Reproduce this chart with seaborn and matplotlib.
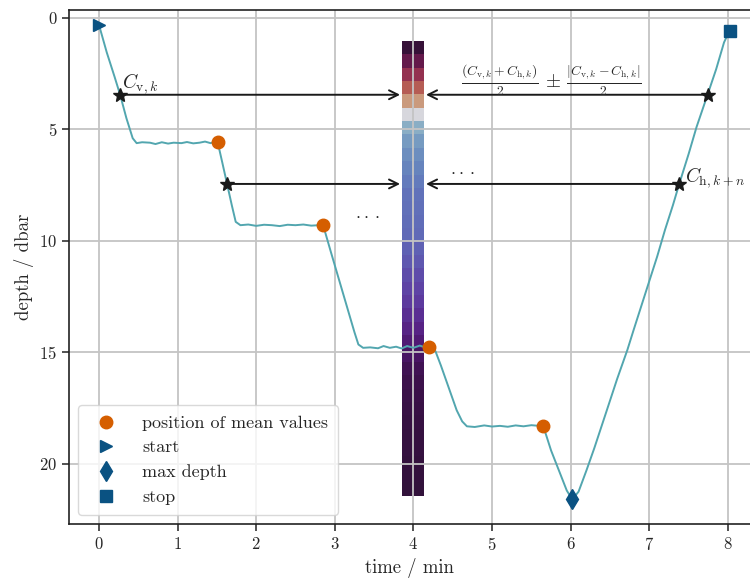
import numpy as np
import matplotlib
matplotlib.use("Agg")
import matplotlib.pyplot as plt
import seaborn as sns

# ---- data
time_min = [0.0, 0.1, 0.2, 0.27, 0.35, 0.43, 0.48, 0.55, 0.65, 0.72, 0.8, 0.88, 0.95,
            1.05, 1.12, 1.2, 1.28, 1.35, 1.42, 1.48, 1.51,
            1.57, 1.63, 1.69, 1.74, 1.8, 1.9, 2.0, 2.1, 2.2, 2.3, 2.4, 2.5, 2.6, 2.7, 2.8, 2.85,
            2.95, 3.05, 3.15, 3.25, 3.3, 3.36, 3.45, 3.55, 3.62, 3.7, 3.78, 3.85, 3.92, 4.0,
            4.08, 4.15, 4.2,
            4.28, 4.35, 4.45, 4.55, 4.62, 4.68, 4.78, 4.9, 5.0, 5.1, 5.2, 5.3, 5.4, 5.5, 5.6, 5.65,
            5.75, 5.85, 5.95, 6.02, 6.1, 6.2, 6.3, 6.45, 6.59, 6.65, 6.72, 6.8, 6.9, 7.0,
            7.1, 7.2, 7.3, 7.38, 7.5, 7.6, 7.74, 7.85, 7.95, 8.02]
depth_dbar = [0.3, 1.55, 2.65, 3.45, 4.5, 5.4, 5.62, 5.58, 5.6, 5.66, 5.58, 5.64, 5.6,
              5.62, 5.57, 5.63, 5.6, 5.55, 5.62, 5.56, 5.57,
              6.5, 7.45, 8.4, 9.15, 9.3, 9.27, 9.33, 9.28, 9.3, 9.34, 9.28, 9.3, 9.27, 9.32, 9.3, 9.28,
              10.5, 11.7, 12.9, 14.1, 14.65, 14.8, 14.78, 14.82, 14.72, 14.8, 14.75, 14.83, 14.72, 14.8,
              14.7, 14.78, 14.75,
              14.95, 15.6, 16.6, 17.6, 18.1, 18.32, 18.35, 18.28, 18.33, 18.3, 18.34, 18.28, 18.32, 18.27, 18.3, 18.3,
              19.4, 20.3, 21.2, 21.6, 21.25, 20.3, 19.3, 17.7, 16.2, 15.6, 14.9, 14.0, 12.9, 11.8,
              10.7, 9.5, 8.4, 7.45, 6.1, 4.9, 3.45, 2.3, 1.1, 0.58]

mean_time = [1.51, 2.85, 4.2, 5.65]
mean_depth = [5.57, 9.28, 14.75, 18.3]
start_pt = (0.0, 0.3)
maxdepth_pt = (6.02, 21.6)
stop_pt = (8.02, 0.58)

star_time = [0.27, 1.63, 7.38, 7.74]
star_depth = [3.45, 7.45, 7.45, 3.45]

# cell values of the column (twilight_shifted_r scale), from top to bottom
cell_values = [0.02, 0.10, 0.18, 0.26, 0.36, 0.53, 0.64, 0.68, 0.705, 0.725, 0.74, 0.755,
               0.76, 0.765, 0.77, 0.785, 0.80, 0.82, 0.835, 0.85, 0.87, 0.89, 0.91, 0.93,
               0.95, 0.96, 0.965, 0.97, 0.975, 0.98, 0.98, 0.985, 0.985, 0.99]
col_top, cell_h = 1.03, 0.6

# ---- style
sns.set_theme(style="whitegrid")
plt.rcParams['font.family'] = 'serif'
plt.rcParams['font.serif'] = ['cmr10', 'DejaVu Serif']
plt.rcParams['mathtext.fontset'] = 'cm'
plt.rcParams['axes.formatter.use_mathtext'] = True

line_c = '#52a6af'
orange = '#d55e00'
blue = '#0a5282'

fig = plt.figure(figsize=(7.5, 5.8), dpi=100)
ax = fig.add_axes([0.092, 0.0966, 0.908, 0.8865])

# column of cells
y_edges = col_top + cell_h * np.arange(len(cell_values) + 1)
x_edges = np.array([3.855, 4.135])
ax.pcolormesh(x_edges, y_edges, np.array(cell_values)[:, None],
              cmap='twilight_shifted_r', vmin=0, vmax=1, zorder=0.4)

sns.lineplot(x=time_min, y=depth_dbar, sort=False, color=line_c, lw=1.4, ax=ax, zorder=2)

# arrows
arrow_kw = dict(arrowstyle='->', lw=1.4, color='k', shrinkA=0, shrinkB=0, mutation_scale=16)
ax.annotate('', xy=(3.83, star_depth[0]), xytext=(star_time[0], star_depth[0]), arrowprops=arrow_kw)
ax.annotate('', xy=(3.83, star_depth[1]), xytext=(star_time[1], star_depth[1]), arrowprops=arrow_kw)
ax.annotate('', xy=(4.16, star_depth[2]), xytext=(star_time[2], star_depth[2]), arrowprops=arrow_kw)
ax.annotate('', xy=(4.16, star_depth[3]), xytext=(star_time[3], star_depth[3]), arrowprops=arrow_kw)

ax.plot(star_time, star_depth, ls='none', marker='*', ms=10, color='k', zorder=4)

ax.plot(mean_time, mean_depth, ls='none', marker='o', ms=9, color=orange, zorder=4,
        label='position of mean values')
ax.plot(*start_pt, ls='none', marker='>', ms=9, color=blue, zorder=4, label='start')
ax.plot(*maxdepth_pt, ls='none', marker='d', ms=10, color=blue, zorder=4, label='max depth')
ax.plot(*stop_pt, ls='none', marker='s', ms=8, color=blue, zorder=4, label='stop')

# annotations
ax.text(0.29, 3.5, r'$C_{\mathrm{v},k}$', fontsize=14, ha='left', va='bottom')
ax.text(7.45, 7.7, r'$C_{\mathrm{h},k+n}$', fontsize=14, ha='left', va='bottom')
ax.text(5.75, 2.8, r'$\frac{(C_{\mathrm{v},k}+C_{\mathrm{h},k})}{2}\,\pm\,\frac{|C_{\mathrm{v},k}-C_{\mathrm{h},k}|}{2}$',
        fontsize=14, ha='center', va='center')
ax.text(3.42, 8.8, r'$\cdot\cdot\cdot$', fontsize=13, ha='center', va='center')
ax.text(4.62, 6.85, r'$\cdot\cdot\cdot$', fontsize=13, ha='center', va='center')

ax.set_xlim(-0.38, 8.28)
ax.set_ylim(22.7, -0.36)
ax.set_xticks(range(0, 9))
ax.set_yticks([0, 5, 10, 15, 20])
ax.set_xlabel('time / min', fontsize=13.5)
ax.set_ylabel('depth / dbar', fontsize=13.5)
ax.tick_params(labelsize=12, length=5, width=1.1, color='#222222', left=True, bottom=True)
ax.grid(True, color='#c4c4c4', lw=1.3)
for side in ['left', 'top', 'bottom']:
    ax.spines[side].set_color('#222222')
    ax.spines[side].set_linewidth(1.2)
ax.spines['right'].set_visible(False)

ax.legend(loc='lower left', fontsize=13, frameon=True, framealpha=0.8,
          edgecolor='#d0d0d0', borderpad=0.55, handletextpad=1.0, labelspacing=0.5)

fig.savefig('out.png', dpi=100)
